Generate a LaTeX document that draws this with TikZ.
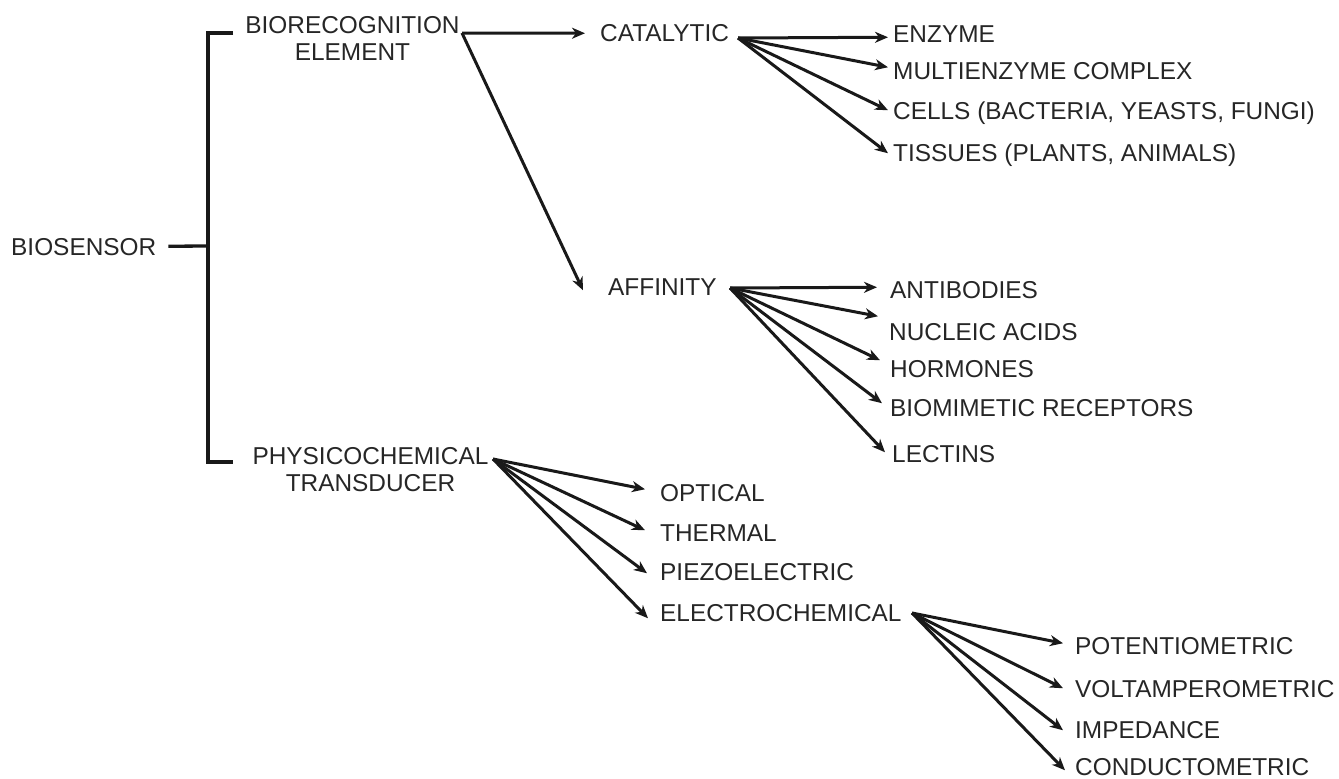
\documentclass[tikz,border=0pt]{standalone}
\usepackage{fontspec}
\setmainfont{Liberation Sans}
\usetikzlibrary{arrows.meta,calc}
\begin{document}
\begin{tikzpicture}[x=1pt,y=-1pt,
  lbl/.style={font=\fontsize{24.4}{27}\selectfont, text=black!85, inner sep=0pt, anchor=base west, text height=17.5pt, text depth=0pt},
  lbl2/.style={font=\fontsize{24.4}{27}\selectfont, text=black!85, inner sep=0pt, align=center, anchor=north},
  ln/.style={line width=3.3pt, black!90},
  arr/.style={line width=3pt, black!90, -{Stealth[length=13pt,width=11pt,inset=4pt]}}]
\useasboundingbox (0,0) rectangle (1339,779);
% nodes
\node[lbl] (bios) at (11,255) {BIOSENSOR};
\node[lbl2] (bio) at (352.5,16) {BIORECOGNITION\\ELEMENT};
\node[lbl2] (phy) at (370.5,447) {PHYSICOCHEMICAL\\TRANSDUCER};
\node[lbl] (cat) at (600,41) {CATALYTIC};
\node[lbl] (aff) at (608,295) {AFFINITY};
\node[lbl] (enz) at (893,42) {ENZYME};
\node[lbl] (mul) at (893,79) {MULTIENZYME COMPLEX};
\node[lbl] (cel) at (893,119) {CELLS (BACTERIA, YEASTS, FUNGI)};
\node[lbl] (tis) at (893,161) {TISSUES (PLANTS, ANIMALS)};
\node[lbl] (ant) at (890,298) {ANTIBODIES};
\node[lbl] (nuc) at (889,340) {NUCLEIC ACIDS};
\node[lbl] (hor) at (890,377) {HORMONES};
\node[lbl] (bmr) at (890,416) {BIOMIMETIC RECEPTORS};
\node[lbl] (lec) at (892,462) {LECTINS};
\node[lbl] (opt) at (660,501) {OPTICAL};
\node[lbl] (the) at (660,541) {THERMAL};
\node[lbl] (pie) at (660,580) {PIEZOELECTRIC};
\node[lbl] (ele) at (660,621) {ELECTROCHEMICAL};
\node[lbl] (pot) at (1075,654) {POTENTIOMETRIC};
\node[lbl] (vol) at (1075,697) {VOLTAMPEROMETRIC};
\node[lbl] (imp) at (1075,738) {IMPEDANCE};
\node[lbl] (con) at (1075,775.5) {CONDUCTOMETRIC};
% junction coordinates
\coordinate (jn) at (208,246);
\coordinate (brT) at (233,33);
\coordinate (brB) at (233,462);
\coordinate (bioO) at (462,33);
\coordinate (catO) at (738,38);
\coordinate (affO) at (730,288);
\coordinate (phyO) at (493,459);
\coordinate (eleO) at (912,613);
% bracket
\draw[ln] ([xshift=12pt]bios.east) -- (jn);
\draw[ln] (brT) -| (jn) |- (brB);
% biorecognition
\draw[arr] (bioO) -- ([xshift=-15pt,yshift=-1pt]cat.west);
\draw[arr] (bioO) -- ([xshift=-25pt,yshift=-4pt]aff.west);
% catalytic
\draw[arr] (catO) -- ([xshift=-5pt,yshift=-4pt]enz.west);
\draw[arr] (catO) -- ([xshift=-5pt,yshift=3pt]mul.west);
\draw[arr] (catO) -- ([xshift=-5pt,yshift=0pt]cel.west);
\draw[arr] (catO) -- ([xshift=-5pt,yshift=-1pt]tis.west);
% affinity
\draw[arr] (affO) -- ([xshift=-13pt,yshift=2pt]ant.west);
\draw[arr] (affO) -- ([xshift=-11pt,yshift=15pt]nuc.west);
\draw[arr] (affO) -- ([xshift=-10pt,yshift=8pt]hor.west);
\draw[arr] (affO) -- ([xshift=-8pt,yshift=4pt]bmr.west);
\draw[arr] (affO) -- ([xshift=-7pt,yshift=1pt]lec.west);
% physicochemical
\draw[arr] (phyO) -- ([xshift=-15pt,yshift=3pt]opt.west);
\draw[arr] (phyO) -- ([xshift=-15pt,yshift=2pt]the.west);
\draw[arr] (phyO) -- ([xshift=-13pt,yshift=-2pt]pie.west);
\draw[arr] (phyO) -- ([xshift=-12pt,yshift=-6pt]ele.west);
% electrochemical
\draw[arr] (eleO) -- ([xshift=-12pt,yshift=2pt]pot.west);
\draw[arr] (eleO) -- ([xshift=-12pt,yshift=0pt]vol.west);
\draw[arr] (eleO) -- ([xshift=-12pt,yshift=-1pt]imp.west);
\draw[arr] (eleO) -- ([xshift=-10pt,yshift=-3.5pt]con.west);
\end{tikzpicture}
\end{document}
